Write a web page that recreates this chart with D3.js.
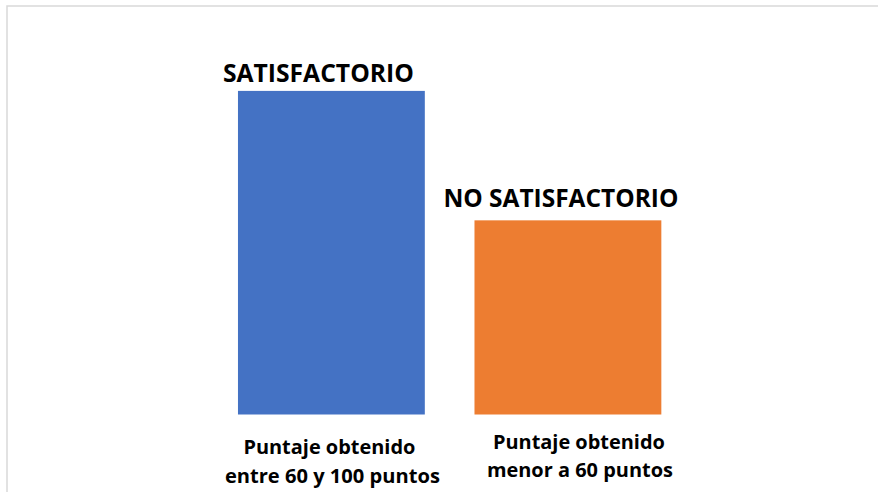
<!DOCTYPE html>
<html>
<head>
<style>
    body { margin: 0; background: #fff; }
    text { font-family: "Open Sans", sans-serif; font-weight: bold; fill: #000; }
</style>
</head>
<body>
    <svg id="chart" width="878" height="492"></svg>
</body>
<script src="https://d3js.org/d3.v7.min.js"></script>
<script>
    // data
    const categories = ["Puntaje obtenido\nentre 60 y 100 puntos", "Puntaje obtenido\nmenor a 60 puntos"];
    const values = [20, 12];
    const dataLabels = ["SATISFACTORIO", "NO SATISFACTORIO"];
    const colors = ["#4472C4", "#ED7D31"];

    let svg = d3.select("#chart");

    // chart frame (only top/left edges show)
    svg.append("rect")
        .attr("x", 7).attr("y", 6)
        .attr("width", 900).attr("height", 520)
        .attr("fill", "none")
        .attr("stroke", "#d9d9d9")
        .attr("stroke-width", 1.5);

    let xScale = d3.scaleBand()
        .domain(categories)
        .range([188.3, 711])
        .padding(0.21);
    let yScale = d3.scaleLinear()
        .domain([0, 25])
        .range([414.5, 10]);

    svg.selectAll(".bar")
        .data(values)
        .enter()
        .append("rect")
        .attr("class", "bar")
        .attr("x", (d, i) => xScale(categories[i]))
        .attr("y", (d) => yScale(d))
        .attr("width", xScale.bandwidth())
        .attr("height", (d) => yScale(0) - yScale(d))
        .attr("fill", (d, i) => colors[i]);

    // data labels sit slightly off-centre, as in the original
    let labelShift = [[-13, -9], [-7, -13]];
    let labelWidth = [191, 235];
    svg.selectAll(".dlabel")
        .data(values)
        .enter()
        .append("text")
        .attr("class", "dlabel")
        .attr("x", (d, i) => xScale(categories[i]) + xScale.bandwidth() / 2 + labelShift[i][0])
        .attr("y", (d, i) => yScale(d) + labelShift[i][1])
        .attr("text-anchor", "middle")
        .attr("font-size", 25)
        .attr("textLength", (d, i) => labelWidth[i])
        .attr("lengthAdjust", "spacingAndGlyphs")
        .text((d, i) => dataLabels[i]);

    // category labels, two lines each
    let catTop = [454, 449];
    let catGap = [29, 28];
    let catDx = [[-2, 1], [11, 12]];
    let catWidth = [[172, 215], [172, 186]];
    categories.forEach((c, i) => {
        let cx = xScale(c) + xScale.bandwidth() / 2;
        c.split("\n").forEach((line, j) => {
            svg.append("text")
                .attr("x", cx + catDx[i][j])
                .attr("y", catTop[i] + j * catGap[i])
                .attr("text-anchor", "middle")
                .attr("font-size", 20)
                .attr("textLength", catWidth[i][j])
                .attr("lengthAdjust", "spacingAndGlyphs")
                .text(line);
        });
    });
</script>
</html>
